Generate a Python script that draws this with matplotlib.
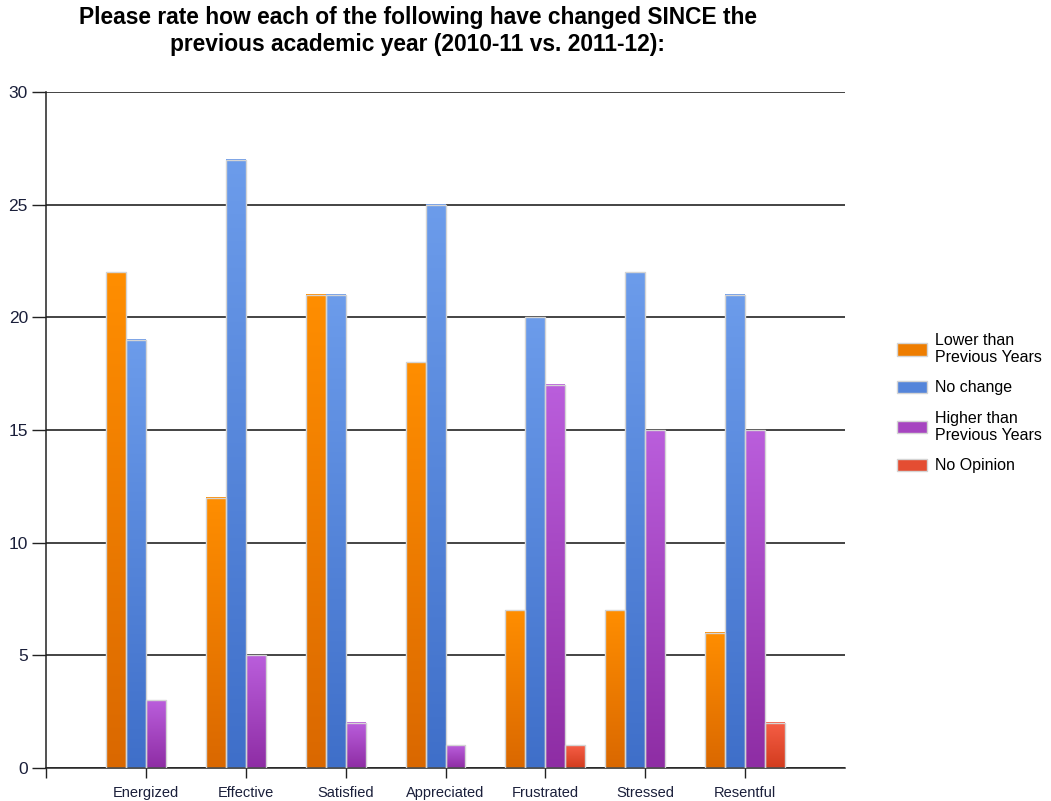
import numpy as np
import matplotlib
matplotlib.use("Agg")
import matplotlib.pyplot as plt
from matplotlib.colors import LinearSegmentedColormap
from matplotlib.patches import Patch

plt.rcParams['font.family'] = ['Liberation Sans', 'DejaVu Sans']

categories = ["Energized", "Effective", "Satisfied", "Appreciated",
              "Frustrated", "Stressed", "Resentful"]
series_names = ["Lower than\nPrevious Years", "No change",
                "Higher than\nPrevious Years", "No Opinion"]
lower = [22, 12, 21, 18, 7, 7, 6]
no_change = [19, 27, 21, 25, 20, 22, 21]
higher = [3, 5, 2, 1, 17, 15, 15]
no_opinion = [0, 0, 0, 0, 1, 0, 2]
y_ticks = [0, 5, 10, 15, 20, 25, 30]

series_values = [lower, no_change, higher, no_opinion]
# (top colour, bottom colour) for each series' vertical gradient
gradients = [("#FF8E00", "#DA6800"),
             ("#6C9CEB", "#3F6FC9"),
             ("#BA5EDC", "#8E2DA4"),
             ("#F65E46", "#D23C1E")]
legend_colors = ["#EE7D00", "#5585DA", "#A645C0", "#E44D32"]

fig = plt.figure(figsize=(10.51, 8.01), dpi=100)
ax = fig.add_axes([46 / 1051, 1 - 768 / 801, 799 / 1051, 676 / 801])

x = np.arange(len(categories))
width = 0.2
offsets = [-0.3, -0.1, 0.1, 0.3]

grad = np.linspace(1, 0, 256).reshape(-1, 1)
for vals, off, (top, bot) in zip(series_values, offsets, gradients):
    cmap = LinearSegmentedColormap.from_list("g", [bot, top])
    bars = ax.bar(x + off, vals, width=width, facecolor="none",
                  edgecolor="#D4D4D4", linewidth=1.0, zorder=3)
    for b in bars:
        h = b.get_height()
        if h <= 0:
            b.set_visible(False)
            continue
        x0 = b.get_x()
        w = b.get_width()
        ax.imshow(grad, cmap=cmap, aspect="auto", vmin=0, vmax=1,
                  extent=(x0, x0 + w, 0, h), zorder=2,
                  interpolation="bilinear")

ax.set_xlim(-1, 7)
ax.set_ylim(0, 30)
ax.set_yticks(y_ticks)
ax.set_yticklabels([str(v) for v in y_ticks], fontsize=12.5, color="#1a1f3a")
ax.set_xticks(list(x) + [-1])
ax.set_xticklabels(categories + [""], fontsize=10.5, color="#1a1f3a")
ax.tick_params(axis="y", length=10, width=1, color="#222222", pad=3)
ax.tick_params(axis="x", length=7, width=1, color="#222222", pad=6)
ax.yaxis.grid(True, color="#111111", linewidth=1.1, zorder=1)
ax.set_axisbelow(True)
for s in ["top", "right"]:
    ax.spines[s].set_visible(False)
for s in ["left", "bottom"]:
    ax.spines[s].set_color("#222222")
    ax.spines[s].set_linewidth(1.1)

fig.text(418 / 1051, 1 - 31 / 801,
         "Please rate how each of the following have changed SINCE the\n"
         "previous academic year (2010-11 vs. 2011-12):",
         ha="center", va="center", fontsize=16.4, fontweight="bold",
         linespacing=1.2)

handles = [Patch(facecolor=c, edgecolor="#D4D4D4", linewidth=1.0)
           for c in legend_colors]
fig.legend(handles, series_names, loc="center left",
           bbox_to_anchor=(884 / 1051, 1 - 403 / 801), frameon=False,
           fontsize=11.5, handlelength=1.9, handleheight=0.8,
           handletextpad=0.5, labelspacing=0.95, borderpad=0.3)

fig.savefig("out.png", dpi=100)
